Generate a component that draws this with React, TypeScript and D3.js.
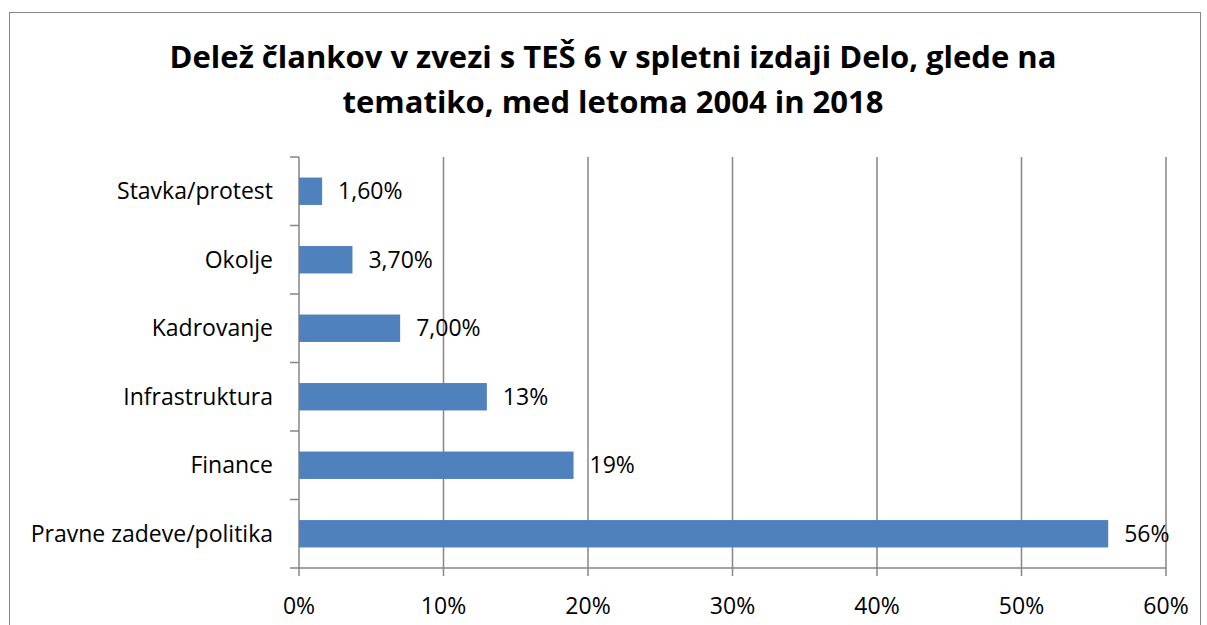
import { useMemo } from "react";
import * as d3 from "d3";

const categories = [
  "Stavka/protest",
  "Okolje",
  "Kadrovanje",
  "Infrastruktura",
  "Finance",
  "Pravne zadeve/politika",
];
const values = [1.6, 3.7, 7.0, 13, 19, 56];
const valueLabels = ["1,60%", "3,70%", "7,00%", "13%", "19%", "56%"];
const xTicks = [0, 10, 20, 30, 40, 50, 60];
const titleLines = [
  "Delež člankov v zvezi s TEŠ 6 v spletni izdaji Delo, glede na",
  "tematiko, med letoma 2004 in 2018",
];

const WIDTH = 1207;
const HEIGHT = 625;
const MARGIN = { top: 157, right: 41, bottom: 57, left: 299 };
const FONT = "'Open Sans', 'Noto Sans', sans-serif";
const GRID = "#868686";
const LABEL_SIZE = 23;

export default function App() {
  const boundsWidth = WIDTH - MARGIN.left - MARGIN.right;
  const boundsHeight = HEIGHT - MARGIN.top - MARGIN.bottom;

  const xScale = useMemo(
    () => d3.scaleLinear().domain([0, 60]).range([0, boundsWidth]),
    [boundsWidth]
  );
  const yScale = useMemo(
    () =>
      d3.scaleBand<string>()
        .domain(categories)
        .range([0, boundsHeight])
        .paddingInner(0.6)
        .paddingOuter(0.3),
    [boundsHeight]
  );
  const step = yScale.step();

  return (
    <svg
      width={WIDTH}
      height={HEIGHT}
      style={{ position: "absolute", left: 0, top: 0, background: "#fff" }}
    >
      <rect x={9.5} y={12.5} width={1191} height={640} fill="#fff" stroke="#868686" strokeWidth={1} />
      {titleLines.map((t, i) => (
        <text
          key={i}
          x={613}
          y={68 + i * 45}
          textAnchor="middle"
          fontFamily={FONT}
          fontWeight="bold"
          fontSize={31}
          fill="#000"
        >
          {t}
        </text>
      ))}
      <g transform={`translate(${MARGIN.left}, ${MARGIN.top})`}>
        {xTicks.map((t) => (
          <g key={t}>
            <line
              x1={xScale(t)}
              x2={xScale(t)}
              y1={0}
              y2={boundsHeight + 8}
              stroke={GRID}
              strokeWidth={1.5}
            />
            <text
              x={xScale(t)}
              y={boundsHeight + 46}
              textAnchor="middle"
              fontFamily={FONT}
              fontSize={LABEL_SIZE}
              fill="#000"
            >
              {t}%
            </text>
          </g>
        ))}
        <line x1={0} x2={boundsWidth} y1={boundsHeight} y2={boundsHeight} stroke={GRID} strokeWidth={1.5} />
        {d3.range(categories.length + 1).map((i) => (
          <line key={i} x1={-9} x2={0} y1={i * step} y2={i * step} stroke={GRID} strokeWidth={1.5} />
        ))}
        {categories.map((c, i) => {
          const y = yScale(c) ?? 0;
          const cy = y + yScale.bandwidth() / 2;
          return (
            <g key={c}>
              <rect x={0} y={y} width={xScale(values[i])} height={yScale.bandwidth()} fill="#4F81BD" />
              <text
                x={-26}
                y={cy}
                dy="0.35em"
                textAnchor="end"
                fontFamily={FONT}
                fontSize={LABEL_SIZE}
                fill="#000"
              >
                {c}
              </text>
              <text
                x={xScale(values[i]) + 16}
                y={cy}
                dy="0.35em"
                fontFamily={FONT}
                fontSize={LABEL_SIZE}
                fill="#000"
              >
                {valueLabels[i]}
              </text>
            </g>
          );
        })}
      </g>
    </svg>
  );
}
